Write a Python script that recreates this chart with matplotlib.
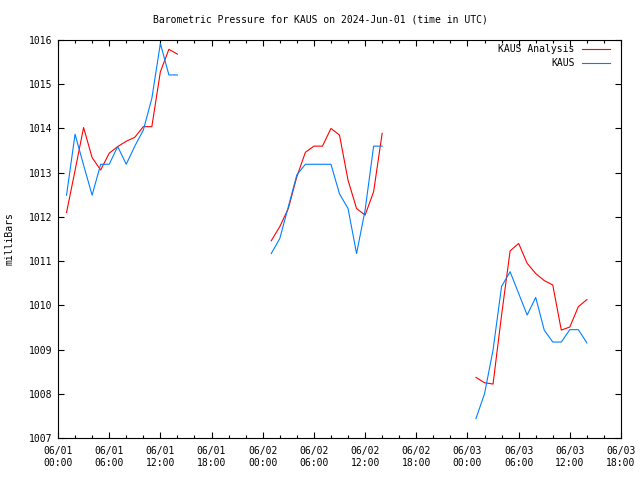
import numpy as np
import matplotlib
matplotlib.use('Agg')
import matplotlib.pyplot as plt

# horas desde 2024-06-01 00:00 UTC
hours = list(range(1, 15)) + list(range(25, 39)) + list(range(49, 63))

analysis = [1012.10, 1013.05, 1014.02, 1013.34, 1013.06, 1013.44, 1013.59, 1013.71, 1013.80, 1014.04,
            1014.04, 1015.28, 1015.79, 1015.68,
            1011.46, 1011.78, 1012.19, 1012.91, 1013.46, 1013.60, 1013.60, 1014.00, 1013.85, 1012.83,
            1012.19, 1012.04, 1012.57, 1013.89,
            1008.37, 1008.25, 1008.22, 1009.78, 1011.23, 1011.40, 1010.95, 1010.72, 1010.56, 1010.46,
            1009.44, 1009.51, 1009.97, 1010.13]

kaus = [1012.49, 1013.87, 1013.17, 1012.49, 1013.19, 1013.19, 1013.59, 1013.19, 1013.60, 1013.96,
        1014.68, 1015.92, 1015.21, 1015.21,
        1011.17, 1011.51, 1012.23, 1012.95, 1013.19, 1013.19, 1013.19, 1013.19, 1012.52, 1012.19,
        1011.17, 1012.15, 1013.60, 1013.60,
        1007.44, 1008.00, 1008.99, 1010.43, 1010.76, 1010.27, 1009.78, 1010.18, 1009.44, 1009.17,
        1009.17, 1009.45, 1009.45, 1009.15]

tick_hours = list(range(0, 67, 6))
tick_labels = ['06/01\n00:00', '06/01\n06:00', '06/01\n12:00', '06/01\n18:00',
               '06/02\n00:00', '06/02\n06:00', '06/02\n12:00', '06/02\n18:00',
               '06/03\n00:00', '06/03\n06:00', '06/03\n12:00', '06/03\n18:00']


def segments(x, y):
    # separar donde faltan horas
    x = np.array(x)
    y = np.array(y)
    cuts = np.where(np.diff(x) > 1)[0] + 1
    return zip(np.split(x, cuts), np.split(y, cuts))


plt.rcParams['font.family'] = 'DejaVu Sans Mono'
plt.rcParams['font.size'] = 7

fig = plt.figure(figsize=(6.4, 4.8), dpi=100)
ax = fig.add_axes([58 / 640, 1 - 438 / 480, 563 / 640, 398 / 480])

red = '#ff0000'
blue = '#0080ff'
for xs, ys in segments(hours, analysis):
    ax.plot(xs, ys, color=red, lw=0.8)
for xs, ys in segments(hours, kaus):
    ax.plot(xs, ys, color=blue, lw=0.8)

ax.set_xlim(0, 66)
ax.set_ylim(1007, 1016)
ax.set_xticks(tick_hours)
ax.set_xticklabels(tick_labels, linespacing=1.25)
ax.set_xticks(range(0, 67, 2), minor=True)
ax.set_yticks(range(1007, 1017))

ax.tick_params(which='both', direction='in', top=True, right=True, width=0.8)
ax.tick_params(which='major', length=4)
ax.tick_params(which='minor', length=2.5)
ax.tick_params(axis='x', pad=6)
ax.tick_params(axis='y', pad=4)
for s in ax.spines.values():
    s.set_linewidth(0.8)

# leyenda estilo gnuplot
ax.text(0.918, 0.977, 'KAUS Analysis', transform=ax.transAxes, ha='right', va='center')
ax.plot([0.931, 0.98], [0.977, 0.977], color=red, lw=0.8, transform=ax.transAxes)
ax.text(0.918, 0.942, 'KAUS', transform=ax.transAxes, ha='right', va='center')
ax.plot([0.931, 0.98], [0.942, 0.942], color=blue, lw=0.8, transform=ax.transAxes)

fig.text(0.5, 1 - 20 / 480, 'Barometric Pressure for KAUS on 2024-Jun-01 (time in UTC)',
         ha='center', va='center')
fig.text(10 / 640, 1 - 239 / 480, 'milliBars', rotation=90, ha='center', va='center')

plt.savefig('out.png', dpi=100)
